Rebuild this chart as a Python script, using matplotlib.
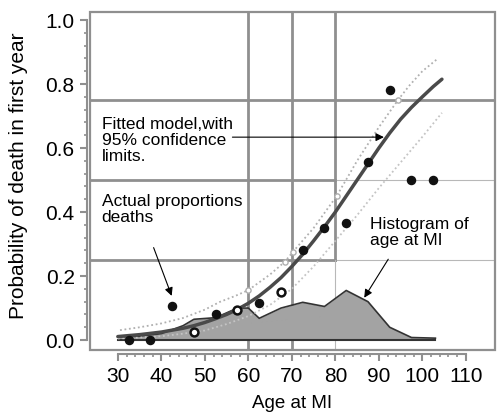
import matplotlib
matplotlib.use("Agg")
import matplotlib.pyplot as plt
import numpy as np
from matplotlib.ticker import FixedLocator
from matplotlib.patches import Rectangle

plt.rcParams['font.family'] = ['Liberation Sans', 'DejaVu Sans']

# observed proportions of deaths (5-year age bins)
obs_age = [32.5, 37.5, 42.5, 47.5, 52.5, 57.5, 62.5, 67.5, 72.5, 77.5, 82.5, 87.5, 92.5, 97.5, 102.5]
obs_prop = [0.0, 0.0, 0.105, 0.025, 0.08, 0.095, 0.115, 0.15, 0.28, 0.35, 0.365, 0.555, 0.78, 0.5, 0.5]
obs_hollow = [False, False, False, True, False, True, False, True, False, False, False, False, False, False, False]

# fitted model + 95% limits
fit_age = [30, 32.5, 35, 37.5, 40, 42.5, 45, 47.5, 50, 52.5, 55, 57.5, 60, 62.5, 65, 67.5,
           70, 72.5, 75, 77.5, 80, 82.5, 85, 87.5, 90, 92.5, 95, 97.5, 100, 102.5, 104.5]
fit_p = [0.011, 0.014, 0.017, 0.021, 0.025, 0.031, 0.037, 0.045, 0.055, 0.067, 0.08, 0.096,
         0.115, 0.138, 0.165, 0.195, 0.23, 0.268, 0.31, 0.354, 0.40, 0.45, 0.50, 0.55, 0.60,
         0.647, 0.69, 0.727, 0.76, 0.792, 0.815]
up_age = [30.5, 35, 40, 45, 50, 53.4, 57, 60, 65, 68.4, 70.2, 75, 80.3, 85, 90, 94.4, 97, 100, 103.6]
up_p = [0.031, 0.04, 0.052, 0.069, 0.095, 0.119, 0.138, 0.156, 0.205, 0.245, 0.275, 0.35, 0.45,
        0.56, 0.665, 0.75, 0.795, 0.84, 0.88]
lo_age = [30, 35, 40, 45, 50, 55, 60, 65, 70, 75, 80, 85, 90, 95, 100, 104.5]
lo_p = [0.005, 0.008, 0.012, 0.02, 0.03, 0.05, 0.075, 0.11, 0.16, 0.23, 0.31, 0.39, 0.475,
        0.555, 0.635, 0.71]
# small open marks on the upper limit
mark_age = [60, 68.4, 70.2, 80.3, 94.4]
mark_p = [0.156, 0.245, 0.275, 0.45, 0.75]

# histogram of age at MI (scaled)
hist_age = [30, 35, 40, 45, 47.5, 52.5, 57.5, 60, 62.5, 67.5, 72.5, 77.5, 82.5, 87.5, 92.5, 97.5, 103]
hist_h = [0.01, 0.012, 0.02, 0.045, 0.065, 0.07, 0.1, 0.1, 0.068, 0.1, 0.118, 0.105, 0.155, 0.12, 0.04, 0.008, 0.006]

xticks = [30, 40, 50, 60, 70, 80, 90, 100, 110]
yticks = [0, 0.2, 0.4, 0.6, 0.8, 1.0]
ytick_labels = ['0.0', '0.2', '0.4', '0.6', '0.8', '1.0']

gray = '#8f8f8f'
thin = '#b8b8b8'

fig = plt.figure(figsize=(4.99, 4.13), dpi=100)
ax = fig.add_axes([90/499, 1-350/413, 405/499, 338/413])
ax.set_xlim(23.6, 116.7)
ax.set_ylim(-0.031, 1.025)

# box lines
ax.axhline(0.75, color=gray, lw=2, zorder=1)
ax.plot([23.6, 80], [0.5, 0.5], color=gray, lw=2, zorder=1)
ax.plot([80, 116.7], [0.5, 0.5], color=thin, lw=0.8, zorder=1)
ax.plot([23.6, 80], [0.25, 0.25], color=gray, lw=2, zorder=1)
ax.plot([80, 116.7], [0.25, 0.25], color=thin, lw=0.8, zorder=1)
ax.axvline(60, color=gray, lw=2, zorder=1)
ax.axvline(70, color=gray, lw=2, zorder=1)
ax.plot([80, 80], [0.25, 1.025], color=gray, lw=2, zorder=1)
ax.plot([80, 80], [-0.031, 0.25], color=thin, lw=0.8, zorder=1)

# histogram
ax.fill_between(hist_age, 0, hist_h, color='#a3a3a3', zorder=2, lw=0)
ax.plot(hist_age, hist_h, color='#333333', lw=1.2, zorder=3)
ax.plot([30, 103], [0, 0], color='#333333', lw=1.5, zorder=3)

# limits and fit
ax.plot(up_age, up_p, color='#b0b0b0', lw=1.3, ls=(0, (1, 1.5)), zorder=4)
ax.plot(lo_age, lo_p, color='#c4c4c4', lw=1.3, ls=(0, (1, 1.5)), zorder=4)
ax.scatter(mark_age, mark_p, s=14, facecolor='white', edgecolor='#b0b0b0', lw=1, zorder=5)
ax.plot(fit_age, fit_p, color='#4a4a4a', lw=2.5, zorder=5, solid_capstyle='round')

# observed points
for a, p, h in zip(obs_age, obs_prop, obs_hollow):
    if h:
        ax.scatter(a, p, s=32, facecolor='white', edgecolor='#111111', lw=1.8, zorder=6)
    else:
        ax.scatter(a, p, s=34, color='#111111', zorder=6)

# annotations
arrow = dict(arrowstyle='-|>', color='black', lw=0.8, mutation_scale=12)
ax.text(26.3, 0.697, "Fitted model,with\n95% confidence\nlimits.", fontsize=12.5,
        va='top', ha='left', linespacing=1.1)
ax.annotate("", xy=(91.8, 0.634), xytext=(55.7, 0.634), arrowprops=arrow, zorder=7)
ax.text(26.3, 0.457, "Actual proportions\ndeaths", fontsize=12.5, va='top', ha='left', linespacing=1.1)
ax.annotate("", xy=(42.6, 0.13), xytext=(38.0, 0.297), arrowprops=arrow, zorder=7)
ax.text(87.9, 0.384, "Histogram of\nage at MI", fontsize=12.5, va='top', ha='left', linespacing=1.1)
ax.annotate("", xy=(86.3, 0.125), xytext=(92.5, 0.26), arrowprops=arrow, zorder=7)

# frame and offset axes
for s in ['top', 'right']:
    ax.spines[s].set_visible(False)
ax.add_patch(Rectangle((0, 0), 1, 1, transform=ax.transAxes, fill=False,
                       edgecolor=gray, lw=1.6, clip_on=False, zorder=8))
ax.spines['left'].set_position(('outward', 2))
ax.spines['left'].set_bounds(0, 1)
ax.spines['bottom'].set_position(('outward', 3))
ax.spines['bottom'].set_bounds(30, 110)
for s in ['left', 'bottom']:
    ax.spines[s].set_color(gray)
    ax.spines[s].set_linewidth(1.5)

ax.set_xticks(xticks)
ax.set_yticks(yticks)
ax.set_yticklabels(ytick_labels)
ax.xaxis.set_minor_locator(FixedLocator([v for v in range(32, 110, 2) if v % 10]))
ax.yaxis.set_minor_locator(FixedLocator([i * 0.04 for i in range(1, 25) if i % 5]))
ax.tick_params(which='major', length=5, width=1.5, color=gray, labelsize=15, pad=4)
ax.tick_params(which='minor', length=2.5, width=1.2, color=gray)

fig.text(292/499, 1-403/413, "Age at MI", fontsize=13.5, ha='center', va='center')
fig.text(18.5/499, 1-176/413, "Probability of death in first year", fontsize=15,
         ha='center', va='center', rotation=90)

fig.savefig("out.png", dpi=100)
